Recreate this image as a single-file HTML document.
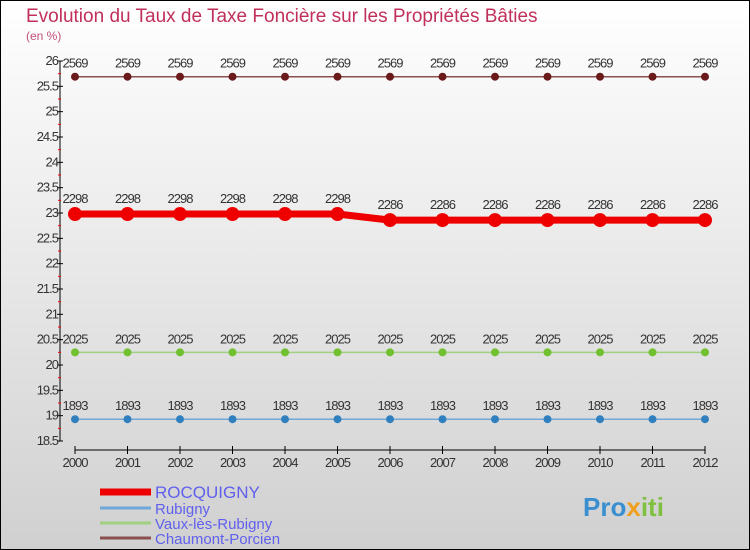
<!DOCTYPE html>
<html><head><meta charset="utf-8"><style>
body{margin:0}
svg{display:block}
text{font-family:"Liberation Sans",sans-serif}
</style></head><body>
<svg id="c" width="750" height="550" xmlns="http://www.w3.org/2000/svg">
<defs><linearGradient id="bg" x1="0" y1="0" x2="0" y2="1"><stop offset="0" stop-color="#ffffff"/><stop offset="1" stop-color="#d0d0d0"/></linearGradient></defs>
<rect x="0.5" y="0.5" width="749" height="549" fill="url(#bg)" stroke="#000"/>
<text x="26" y="22" font-size="19" fill="#c0305a">Evolution du Taux de Taxe Foncière sur les Propriétés Bâties</text>
<text x="26" y="40" font-size="12" fill="#c0507a">(en %)</text>
<g id="axes"></g><g id="series"></g><g id="legend"></g>
<text x="583" y="516" font-size="26" font-weight="bold" fill="#3a8fd0">Pro<tspan fill="#f0a020">x</tspan><tspan fill="#80c040">iti</tspan></text>
</svg>
<script>
const years=[2000,2001,2002,2003,2004,2005,2006,2007,2008,2009,2010,2011,2012];
const yTicks=[18.5,19,19.5,20,20.5,21,21.5,22,22.5,23,23.5,24,24.5,25,25.5,26];
const seriesNames=["ROCQUIGNY","Rubigny","Vaux-lès-Rubigny","Chaumont-Porcien"];
const rocquigny=[22.98,22.98,22.98,22.98,22.98,22.98,22.86,22.86,22.86,22.86,22.86,22.86,22.86];
const rubigny=[18.93,18.93,18.93,18.93,18.93,18.93,18.93,18.93,18.93,18.93,18.93,18.93,18.93];
const vaux=[20.25,20.25,20.25,20.25,20.25,20.25,20.25,20.25,20.25,20.25,20.25,20.25,20.25];
const chaumont=[25.69,25.69,25.69,25.69,25.69,25.69,25.69,25.69,25.69,25.69,25.69,25.69,25.69];
const NS="http://www.w3.org/2000/svg";
function X(i){return 75+i*(630/(years.length-1));}
function Y(v){return 441-(v-18.5)*(380/7.5);}
function mk(t,a,p){const e=document.createElementNS(NS,t);for(const k in a)e.setAttribute(k,a[k]);p.appendChild(e);return e;}
const ax=document.getElementById('axes');
const yl=mk('line',{x1:60,y1:Y(26),x2:60,y2:Y(18.5),stroke:'#000'},ax);


yTicks.forEach(v=>{
 mk('line',{x1:57,y1:Y(v),x2:63,y2:Y(v),stroke:'#000'},ax);
 const t=mk('text',{x:58,y:Y(v)+4,'font-size':13,'text-anchor':'end',fill:'#333','letter-spacing':'-1'},ax);
 t.textContent=v;
 
 
 if(v<26)mk('line',{x1:58,y1:Y(v+0.25),x2:61,y2:Y(v+0.25),stroke:'#f00'},ax);
});
const xl=mk('line',{x1:X(0),y1:450,x2:X(12),y2:450,stroke:'#000'},ax);


years.forEach((y,i)=>{
 mk('line',{x1:X(i),y1:446,x2:X(i),y2:454,stroke:'#000'},ax);
 const t=mk('text',{x:X(i),y:467,'font-size':13,'text-anchor':'middle',fill:'#333','letter-spacing':'-1'},ax);
 t.textContent=y;
 
 
});
const sg=document.getElementById('series');
const defs=[[chaumont,'#6a1a1a','#8a5050',1.5,4,'chaumont-porcien'],[vaux,'#70c030','#a0d080',1.5,4,'vaux-les-rubigny'],[rubigny,'#3080c0','#70a8d8',1.5,4,'rubigny'],[rocquigny,'#ee0000','#ee0000',7,7,'rocquigny']];
defs.forEach(([d,pc,lc,w,r,n])=>{
 const pl=mk('polyline',{points:d.map((v,i)=>X(i)+','+Y(v)).join(' '),fill:'none',stroke:lc,'stroke-width':w},sg);
 
 
 d.forEach((v,i)=>{
  const c=mk('circle',{cx:X(i),cy:Y(v),r:r,fill:pc},sg);
  
  
  const t=mk('text',{x:X(i),y:Y(v)-(r>5?11:9),'font-size':13,'text-anchor':'middle',fill:'#333','letter-spacing':'-1'},sg);
  t.textContent=String(v).replace('.','');
  
  
 });
});
const lg=document.getElementById('legend');
const lcols=['#ee0000','#70a8d8','#a0d080','#8a5050'];
const lw=[7,3,3,3];
const ly=[492,508,523,538];
seriesNames.forEach((n,i)=>{
 const l=mk('line',{x1:100,y1:ly[i],x2:151,y2:ly[i],stroke:lcols[i],'stroke-width':lw[i]},lg);
 
 
 const t=mk('text',{x:155,y:ly[i]+6,'font-size':i==0?17:15,fill:'#6060ee'},lg);
 t.textContent=n;
 
 
});
</script>
</body></html>
